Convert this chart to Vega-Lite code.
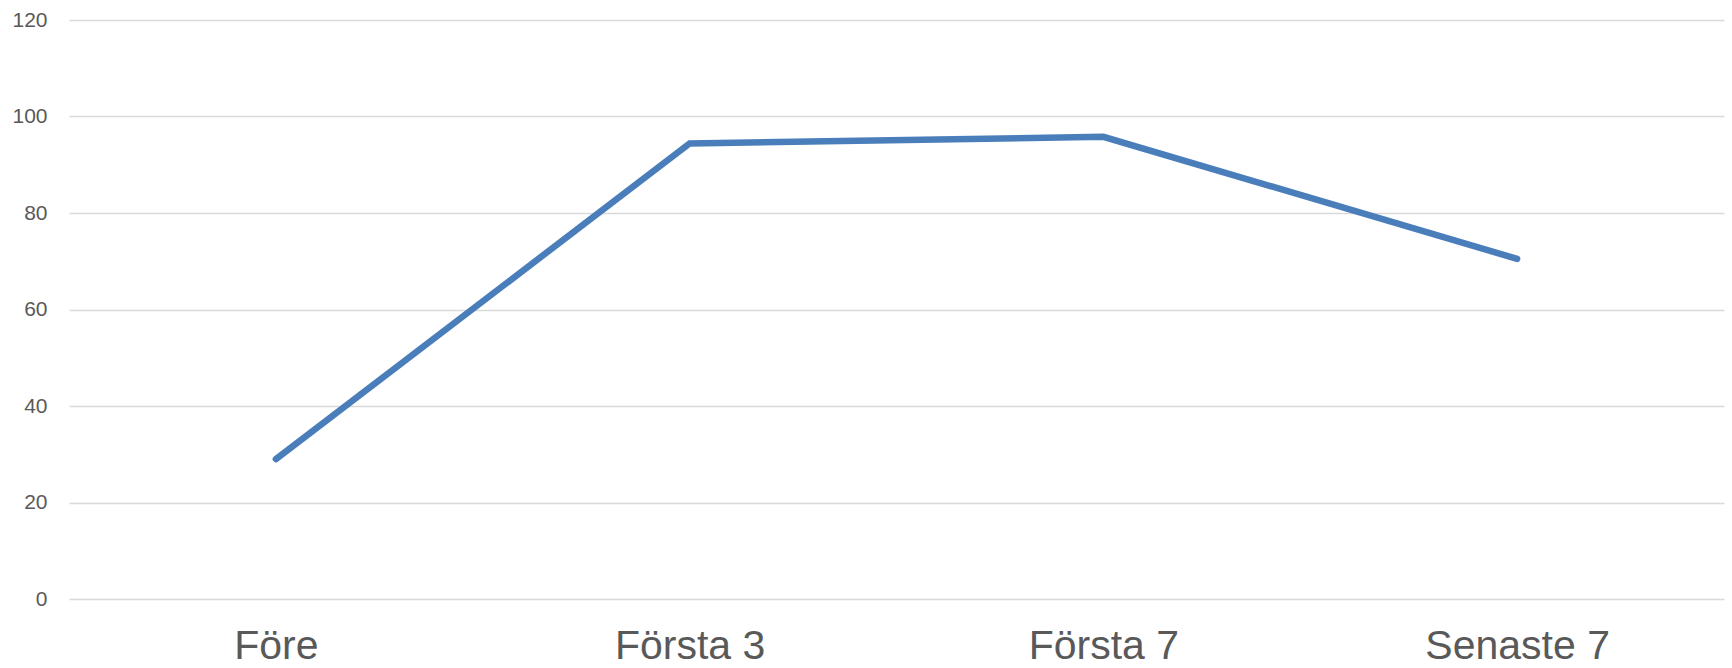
{
  "$schema": "https://vega.github.io/schema/vega-lite/v6.json",
  "autosize": "none",
  "width": 1655,
  "height": 579,
  "padding": {"left": 69, "top": 20, "right": 8, "bottom": 69},
  "background": "white",
  "data": {
    "values": [
      {"period": "Före", "value": 29.0},
      {"period": "Första 3", "value": 94.4},
      {"period": "Första 7", "value": 95.8},
      {"period": "Senaste 7", "value": 70.5}
    ]
  },
  "config": {
    "view": {"stroke": null},
    "font": "Liberation Sans"
  },
  "mark": {"type": "line", "color": "#4a7ebb", "strokeWidth": 6.5, "strokeCap": "round", "strokeJoin": "miter"},
  "encoding": {
    "x": {
      "field": "period",
      "type": "nominal",
      "sort": null,
      "scale": {"type": "point", "padding": 0.5},
      "axis": {
        "title": null,
        "domain": false,
        "ticks": false,
        "grid": false,
        "labelAngle": 0,
        "labelFontSize": 41,
        "labelLimit": 0,
        "labelColor": "#595959",
        "labelFont": "Liberation Sans",
        "labelPadding": 27
      }
    },
    "y": {
      "field": "value",
      "type": "quantitative",
      "scale": {"domain": [0, 120], "nice": false},
      "axis": {
        "title": null,
        "domain": false,
        "ticks": false,
        "values": [0, 20, 40, 60, 80, 100, 120],
        "grid": true,
        "gridColor": "#d9d9d9",
        "gridWidth": 1.5,
        "labelFontSize": 21,
        "labelColor": "#595959",
        "labelFont": "Liberation Sans",
        "labelPadding": 22
      }
    }
  }
}
